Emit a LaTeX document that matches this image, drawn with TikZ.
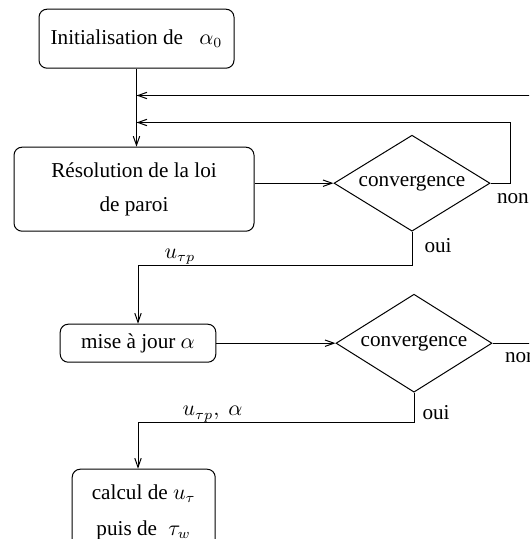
\documentclass[tikz,border=0pt]{standalone}
\usepackage{fontspec}
\setmainfont{Liberation Serif}
\usepackage{tikz}
\usetikzlibrary{positioning}
\usetikzlibrary{calc}
\usetikzlibrary{arrows.meta}
\usetikzlibrary{shapes}

\begin{document}
\begin{tikzpicture}[
    font=\fontsize{10.6}{17}\selectfont,
    line width=0.5pt,
    >={Straight Barb[length=4.5pt,width=3.2pt]},
    etape/.style={draw, rectangle, rounded corners=4pt, align=center, inner sep=0pt},
    test/.style={draw, diamond, aspect=1.6, inner sep=0.5pt, minimum width=78pt, minimum height=48pt},
    lbl/.style={inner sep=0pt}
  ]
        % frame %
        \useasboundingbox (0,0) rectangle (264.5pt,-269.5pt);
        \clip (0,0) rectangle (264.5pt,-269.5pt);

        % nodes %
        \node[etape, minimum width=97.5pt, minimum height=29.5pt] (init) at (68.25pt,-19.35pt) {Initialisation de\hspace{5.5pt} $\alpha_0$};
        \node[etape, below=39pt of init, xshift=-1.25pt, minimum width=120pt, minimum height=42pt] (res) {Résolution de la loi\\de paroi};
        \node[test, right=39.5pt of res, yshift=3pt] (conv1) {convergence};
        \node[etape, below=46pt of res, xshift=2pt, minimum width=77.8pt, minimum height=19pt] (maj) {mise à jour $\alpha$};
        \node[test, right=59.6pt of maj, minimum height=49pt] (conv2) {convergence};
        \node[etape, below=53pt of maj, xshift=2.85pt, minimum width=71.5pt, minimum height=43pt] (calc) {calcul de $u_\tau$\\[1pt]puis de\hspace{3pt} $\tau_w$};

        % coordinates %
        \coordinate (fb2) at ([yshift=-13.4pt]init.south);
        \coordinate (fb1) at ([yshift=-26.9pt]init.south);
        \coordinate (k1) at ([yshift=-16.75pt]conv1.south);
        \coordinate (k2) at ([yshift=-14.85pt]conv2.south);

        % edges %
        \draw[->] (init) -- (init |- res.north);
        \draw[->] (res.east |- conv1.west) -- (conv1.west);
        \draw[->] (conv1.east) -- ++(10pt,0) |- (fb1);
        \draw[->] (conv1.south) -- (k1) -| (maj.north);
        \draw[->] (maj) -- (conv2);
        \draw[->] (conv2.east) -- ++(30pt,0) |- (fb2);
        \draw[->] (conv2.south) -- (k2) -| (calc.north -| maj.north);

        % labels %
        \node[lbl, anchor=north west, xshift=3pt, yshift=-5pt] (non1) at (conv1.east) {non};
        \node[lbl, anchor=north west, xshift=6pt, yshift=-3pt] (oui1) at (conv1.south) {oui};
        \node[lbl, anchor=north west, xshift=6pt, yshift=-4.5pt] (non2) at (conv2.east) {non};
        \node[lbl, anchor=north west, xshift=4pt, yshift=-6pt] (oui2) at (conv2.south) {oui};
        \node[lbl, anchor=south west, xshift=13pt] (u1) at (maj.north |- k1) {$u_{\tau p}$};
        \node[lbl, anchor=south west, xshift=22pt] (u2) at (maj.north |- k2) {$u_{\tau p},\ \alpha$};
\end{tikzpicture}
\end{document}
